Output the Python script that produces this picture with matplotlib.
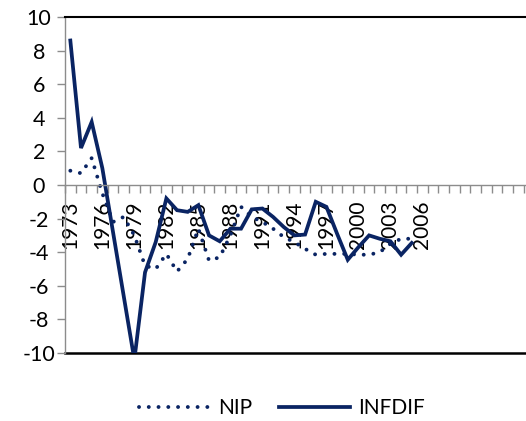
import matplotlib.pyplot as plt
import numpy as np

years = list(range(1973, 2006))
nip = [0.85, 0.7, 1.6, -0.5, -2.2, -1.9, -3.0, -4.8, -5.0, -4.1, -5.15, -4.4, -2.6,
       -4.5, -4.3, -3.0, -1.3, -1.9, -2.2, -2.6, -3.1, -3.4, -3.8, -4.15, -4.1, -4.1,
       -4.1, -4.15, -4.15, -4.0, -3.5, -3.2, -3.2]
infdif = [8.6, 2.2, 3.75, 1.0, -2.8, -6.6, -10.4, -5.2, -3.4, -0.8, -1.5, -1.6, -1.2,
          -3.0, -3.35, -2.6, -2.6, -1.45, -1.4, -1.9, -2.5, -3.0, -2.95, -1.0, -1.3, -2.9,
          -4.45, -3.7, -3.0, -3.2, -3.35, -4.15, -3.45]
label_years = list(range(1973, 2007, 3))
yticks = list(range(-10, 11, 2))

navy = "#0a2463"
gray = "#8c8c8c"
plt.rcParams["font.family"] = ["Lato", "DejaVu Sans"]
plt.rcParams["axes.unicode_minus"] = False

fig = plt.figure(figsize=(5.26, 4.21), dpi=100)
ax = fig.add_axes([65 / 526, 1 - 353 / 421, 1 - 65 / 526, (353 - 17) / 421])

x = np.arange(len(years))
ax.plot(x, nip, color=navy, lw=2.8, linestyle=(0, (0.01, 2.5)),
        dash_capstyle="round", label="NIP")
ax.plot(x, infdif, color=navy, lw=2.7, solid_joinstyle="miter", label="INFDIF")

ax.set_ylim(-10, 10)
ax.set_xlim(-0.5, -0.5 + 461 / 10.67)

# category boundaries as tick marks, year labels in the middle
bounds = np.arange(0, 44) - 0.5
ax.set_xticks(bounds, [""] * len(bounds))
ax.set_xticks([y - 1973 for y in label_years], [str(y) for y in label_years], minor=True)
ax.tick_params(axis="x", which="major", length=5.8, width=1, color=gray, direction="out")
ax.tick_params(axis="x", which="minor", length=0, pad=11, labelsize=15, labelrotation=90)
for t in ax.get_xticklabels(minor=True):
    t.set_verticalalignment("top")

ax.set_yticks(yticks)
ax.tick_params(axis="y", length=5.8, width=1, color=gray, pad=13, labelsize=15.5)
for t in ax.get_yticklabels():
    t.set_horizontalalignment("center")

ax.spines["bottom"].set_position(("data", 0))
ax.spines["bottom"].set_color(gray)
ax.spines["bottom"].set_linewidth(1)
ax.spines["left"].set_color(gray)
ax.spines["left"].set_linewidth(1)
ax.spines["top"].set_color("black")
ax.spines["top"].set_linewidth(1.5)
ax.spines["right"].set_visible(False)
ax.axhline(-10, color="black", lw=1.8, clip_on=False, zorder=1)

fig.legend(loc="center", bbox_to_anchor=(282 / 526, 1 - 408 / 421), ncol=2, frameon=False,
           fontsize=15, handlelength=3.4, handletextpad=0.4, columnspacing=1.3)

fig.savefig("out.png", dpi=100)
